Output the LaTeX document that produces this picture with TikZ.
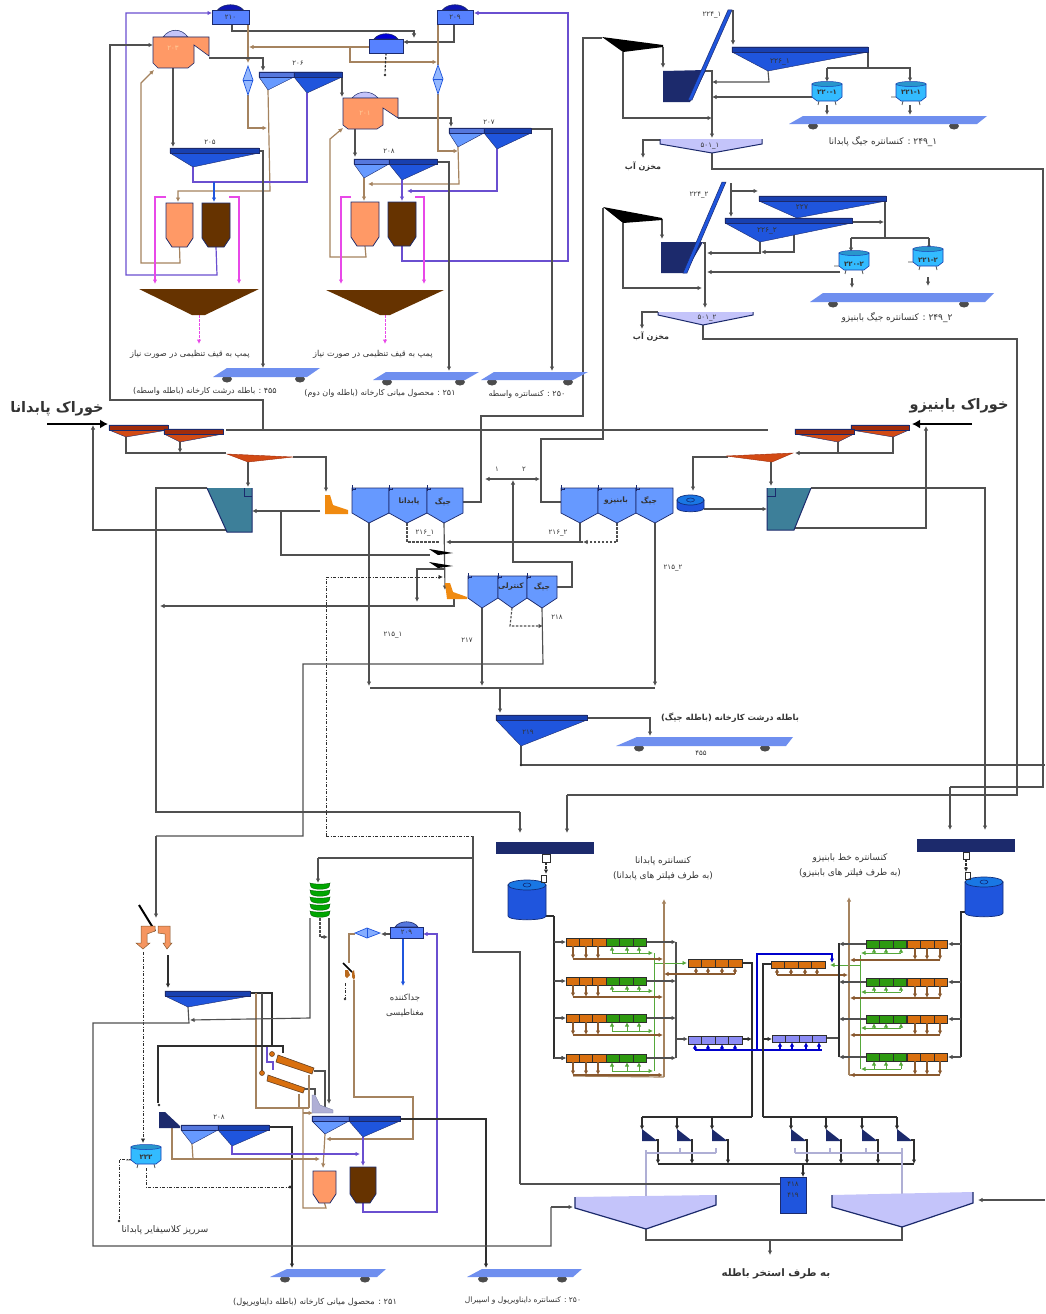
\documentclass[tikz,border=0pt]{standalone}
\usepackage{fontspec}
\usetikzlibrary{arrows.meta}
\TeXXeTstate=1
\newfontfamily\arabicfont[Script=Arabic]{DejaVu Sans}
\definecolor{cnavy}{HTML}{1C2A6C}
\definecolor{cline}{HTML}{505050}
\definecolor{cdark}{HTML}{2E2E2E}
\definecolor{cbrown}{HTML}{A5835F}
\definecolor{cbrownd}{HTML}{8A5A30}
\definecolor{cpurple}{HTML}{6A4FD0}
\definecolor{cmag}{HTML}{E848E8}
\definecolor{cgrn}{HTML}{55A83A}
\definecolor{clight}{HTML}{6699FF}
\definecolor{clightb}{HTML}{5577DD}
\definecolor{cblue}{HTML}{1F55DD}
\definecolor{cblueb}{HTML}{1840B0}
\definecolor{cpeach}{HTML}{FF9966}
\definecolor{cchoc}{HTML}{663300}
\definecolor{cbelt}{HTML}{6F8FEF}
\definecolor{cred}{HTML}{D24A14}
\definecolor{credb}{HTML}{A02C0C}
\definecolor{cteal}{HTML}{3D7F99}
\definecolor{ccyan}{HTML}{33BBFF}
\definecolor{corange}{HTML}{D9700F}
\definecolor{cfgreen}{HTML}{2E9A10}
\definecolor{cviolet}{HTML}{8C8CF5}
\definecolor{claven}{HTML}{C4C4FA}
\definecolor{claunch}{HTML}{F08A10}
\definecolor{ctext}{HTML}{333333}
\pgfdeclarelayer{lines}
\pgfsetlayers{lines,main}
\tikzset{
 sg/.style={draw=cline,line width=1.15pt},
 sk/.style={draw=cdark,line width=1.2pt},
 sb/.style={draw=cbrown,line width=1.2pt},
 sbd/.style={draw=cbrownd,line width=1.05pt},
 sp/.style={draw=cpurple,line width=1.2pt},
 sm/.style={draw=cmag,line width=1.7pt},
 sn/.style={draw=cgrn,line width=.95pt},
 sl/.style={draw=claven!70!gray,line width=1.05pt},
 dd/.style={dash pattern=on 3pt off 1.5pt on 1pt off 1.5pt},
 ds/.style={dash pattern=on 2.5pt off 1.5pt},
 ah/.style={-{Latex[length=4.5pt,width=4.5pt]}},
 ha/.style={{Latex[length=4.5pt,width=4.5pt]}-},
 lbl/.style={inner sep=0pt,text=ctext}
}
\newcounter{tx}
\newcommand{\fatxt}[4]{\stepcounter{tx}\node[lbl,font=\fontsize{#1}{#1}\selectfont] (tx\thetx) at (#2,#3) {\arabicfont #4};}
\newcommand{\fabold}[4]{\stepcounter{tx}\node[lbl,font=\fontsize{#1}{#1}\selectfont\bfseries] (tx\thetx) at (#2,#3) {\arabicfont #4};}
\newcommand{\fanum}[4]{\stepcounter{tx}\node[lbl,font=\fontsize{#1}{#1}\selectfont] (tx\thetx) at (#2,#3) {\arabicfont #4};}
\newcommand{\us}{\hbox{\_}}
\newcommand{\hy}{\hbox{-}}
% name fill bar xl xr ytop ax ay
\newcommand{\eqcone}[8]{\filldraw[fill=#2,draw=cnavy,line width=.4pt] (#4,#6) -- (#5,#6) -- (#5,{#6+5}) -- (#7,#8) -- (#4,{#6+5}) -- cycle;
 \filldraw[fill=#3,draw=cnavy,line width=.4pt] (#4,#6) rectangle (#5,{#6+5});
 \coordinate (#1) at (#7,#8);}
% name fill x1 x2 ytop ybot
\newcommand{\eqtank}[6]{\filldraw[fill=#2,draw=cnavy,line width=.8pt] (#3,#5) -- (#4,#5) -- (#4,{#6-9}) -- ({#4-6},#6) -- ({#3+6},#6) -- (#3,{#6-9}) -- cycle;
 \coordinate (#1) at ({(#3+#4)/2},#6);}
% x1 ybot x2 ytop x3 x4 w1 w2
\newcommand{\eqbelt}[8]{\fill[gray!60!black] (#7,{#2+2}) ellipse (5 and 3.5); \fill[gray!60!black] (#8,{#2+2}) ellipse (5 and 3.5);
 \fill[cbelt] (#1,#2) -- (#3,#4) -- (#5,#4) -- (#6,#2) -- cycle;}
% name x1 x2 y1 y2 domefill label
\newcommand{\eqbox}[7]{\filldraw[fill=#6,draw=cnavy,line width=.6pt] ({#2+(#3-#2)*.15},#4) .. controls ({#2+(#3-#2)*.3},{#4-7}) and ({#2+(#3-#2)*.7},{#4-7}) .. ({#2+(#3-#2)*.85},#4) -- cycle;
 \filldraw[fill=clight!85!blue,draw=cnavy,line width=.9pt] (#2,#4) rectangle (#3,#5);
 \fanum{7}{{(#2+#3)/2}}{{(#4+#5)/2}}{#7}
 \coordinate (#1) at ({(#2+#3)/2},#5);}
% name x1 x2 ytop yshoulder apexx yapex
\newcommand{\eqjig}[7]{\filldraw[fill=clight,draw=cnavy,line width=.7pt] (#2,#4) -- (#3,#4) -- (#3,#5) -- (#6,#7) -- (#2,#5) -- cycle;
 \draw[cnavy,line width=.6pt] (#2,{#4-3}) -- (#2,{#4+3}) (#2,{#4+1}) -- ({#2+3},{#4+1}) ({#2+3},#4) -- ({#2+3},{#4+2});
 \coordinate (#1) at (#6,#7);}
% name cx cy fill stub
\newcommand{\eqcyl}[5]{\draw[cline,line width=.8pt] ({#2-8},{#3+8}) -- ({#2-9},{#3+12}) ({#2+8},{#3+8}) -- ({#2+9},{#3+12}) ({#2-15},{#3+4}) -- ({#2+#5},{#3+4});
 \filldraw[fill=#4,draw=cblueb,line width=.6pt] ({#2-15},{#3-9}) -- ({#2+15},{#3-9}) -- ({#2+15},{#3+4}) -- ({#2+10},{#3+8}) -- ({#2-10},{#3+8}) -- ({#2-15},{#3+4}) -- cycle;
 \filldraw[fill=#4!80!black,draw=cblueb,line width=.5pt] (#2,{#3-9}) ellipse (15 and 2.5);
 \coordinate (#1) at (#2,#3);}
% x1 x2 ytop ybot
\newcommand{\eqdrum}[4]{\filldraw[fill=cblue,draw=cblueb!70!black,line width=.7pt] (#1,{#3+5}) -- (#1,{#4-4}) .. controls (#1,{#4+1}) and (#2,{#4+1}) .. (#2,{#4-4}) -- (#2,{#3+5}) -- cycle;
 \filldraw[fill=cblue!80!cyan,draw=cblueb!70!black,line width=.7pt] ({(#1+#2)/2},{#3+5}) ellipse ({(#2-#1)/2} and 5);
 \draw[cblueb!70!black,line width=.6pt] ({(#1+#2)/2},{#3+5}) ellipse (4 and 2);}
% x ytop cellw h n color
\newcommand{\eqcells}[6]{\foreach \cc in {1,...,#5}{\filldraw[fill=#6,draw=cdark,line width=.7pt] ({#1+(\cc-1)*#3},#2) rectangle ++(#3,#4);}}
% small navy wedge
\newcommand{\eqwedge}[3]{\fill[cnavy] (#2,#3) -- ({#2+14},{#3+11}) -- ({#2+14},{#3+12}) -- (#2,{#3+12}) -- cycle; \coordinate (#1) at ({#2+14},{#3+11});}
\begin{document}
\begin{tikzpicture}[x=1pt,y=-1pt]
\useasboundingbox (0,0) rectangle (1045,1314);
\begin{pgfonlayer}{lines}
\fill[white] (0,0) rectangle (1045,1314);
\end{pgfonlayer}

%%%%%%%%%% top-left circuit
\eqbox{b210}{212}{249}{10}{24}{cnavy!50!blue}{۲۱۰}
\eqbox{b209}{437}{473}{10}{24}{cnavy!50!blue}{۲۰۹}
\eqbox{bmid}{369}{403}{39}{53}{blue!85!black}{}
\filldraw[fill=claven,draw=cnavy,line width=.5pt] (163,37) .. controls (170,28) and (181,28) .. (188,37) -- cycle;
\filldraw[fill=claven,draw=cnavy,line width=.5pt] (352,98) .. controls (359,90) and (371,90) .. (378,98) -- cycle;
\filldraw[fill=cpeach,draw=cnavy,line width=.6pt] (153,37) -- (209,37) -- (209,56) -- (194,45) -- (194,63) -- (188,68) -- (158,68) -- (153,63) -- cycle;
\filldraw[fill=cpeach,draw=cnavy,line width=.6pt] (343,98) -- (398,98) -- (398,118) -- (383,108) -- (383,125) -- (377,129) -- (348,129) -- (343,125) -- cycle;
\coordinate (c203) at (173,68); \coordinate (c201) at (355,129);
\stepcounter{tx}\node[lbl,text=orange!40!white,font=\fontsize{7}{7}\selectfont] (tx\thetx) at (173,48) {\arabicfont ۲۰۳};
\stepcounter{tx}\node[lbl,text=orange!40!white,font=\fontsize{7}{7}\selectfont] (tx\thetx) at (365,113) {\arabicfont ۲۰۱};
% diamonds
\filldraw[fill=clight!70,draw=cblue,line width=.7pt] (248,66) -- (253,80) -- (248,95) -- (243,80) -- cycle; \draw[cblue,line width=.5pt] (243,80) -- (253,80);
\filldraw[fill=clight!70,draw=cblue,line width=.7pt] (438,65) -- (443,79) -- (438,94) -- (433,79) -- cycle; \draw[cblue,line width=.5pt] (433,79) -- (443,79);
\coordinate (d1) at (248,95); \coordinate (d2) at (438,94);
% screens
\eqcone{s206a}{clight}{clightb}{259}{294}{72}{268}{90}
\eqcone{s206b}{cblue}{cblueb}{294}{342}{72}{307}{93}
\eqcone{s207a}{clight}{clightb}{449}{484}{128}{458}{147}
\eqcone{s207b}{cblue}{cblueb}{484}{531}{128}{497}{149}
\eqcone{s208a}{clight}{clightb}{354}{389}{159}{364}{178}
\eqcone{s208b}{cblue}{cblueb}{389}{437}{159}{402}{180}
\eqcone{s205}{cblue}{cblueb}{170}{259}{148}{193}{167}
\fanum{7}{298}{63}{۲۰۶}
\fanum{7}{489}{122}{۲۰۷}
\fanum{7}{389}{151}{۲۰۸}
\fanum{7}{210}{142}{۲۰۵}
% tanks
\eqtank{t1a}{cpeach}{166}{193}{203}{247}
\eqtank{t1b}{cchoc}{202}{230}{203}{247}
\eqtank{t2a}{cpeach}{351}{379}{202}{246}
\eqtank{t2b}{cchoc}{388}{416}{202}{246}
% large cones
\fill[cchoc] (139,289) -- (259,289) -- (205,315) -- (192,315) -- cycle; \coordinate (f1) at (199,315);
\fill[cchoc] (326,290) -- (444,290) -- (390,315) -- (380,315) -- cycle; \coordinate (f2) at (385,315);
\fatxt{8.2}{190}{354}{\beginR پمپ به قیف تنظیمی در صورت نیاز\endR}
\fatxt{8.2}{373}{354}{\beginR پمپ به قیف تنظیمی در صورت نیاز\endR}
\eqbelt{213}{377}{227}{368}{320}{307}{227}{300}
\eqbelt{373}{380}{386}{372}{479}{465}{387}{460}
\eqbelt{481}{380}{494}{372}{588}{573}{492}{568}
\fatxt{8}{205}{391}{\beginR \beginL ۴۵۵\endL{} : باطله درشت کارخانه (باطله واسطه)\endR}
\fatxt{8}{380}{393}{\beginR \beginL ۲۵۱\endL{} : محصول میانی کارخانه (باطله وان دوم)\endR}
\fatxt{8}{527}{394}{\beginR \beginL ۲۵۰\endL{} : کنسانتره واسطه\endR}

\begin{pgfonlayer}{lines}
\draw[sp,ah] (t1b) -- (217,275) -- (126,275) -- (126,13) -- (212,13);
\draw[sg,ah] (232,24) -- (232,31) -- (414,31) -- (414,38);
\draw[sb,ah] (248,24) -- (248,63);
\draw[sg,ah] (454,24) -- (454,42) -- (403,42);
\draw[sb] (438,24) -- (438,65);
\draw[sb,ah] (369,47) -- (249,47);
\draw[sb,ah] (350,47) -- (350,62) -- (437,62);
\draw[sk,ds] (bmid) -- (385,73);
\fill[cdark] (385,75) circle (1.3);
\draw[sg,ah] (209,58) -- (263,58) -- (263,71);
\draw[sb,ah] (d1) -- (248,128) -- (267,128);
\draw[sb,ah] (s206a) -- (270,191) -- (178,191) -- (178,202);
\draw[sp] (s206b) -- (307,182) -- (193,182) -- (s205);
\draw[cblue,line width=1.2pt,ah] (214,182) -- (214,202);
\draw[sg,ah] (c203) -- (173,147);
\draw[sb,ah] (t1a) -- (180,263) -- (141,263) -- (141,83) -- (154,70);
\draw[sg,ah] (259,151) -- (263,151) -- (263,368);
\draw[sg,ah] (263,430) -- (263,400) -- (110,400) -- (110,45) -- (153,45);
\draw[sg,ah] (342,75) -- (342,97);
\draw[sg,ah] (398,118) -- (451,118) -- (451,127);
\draw[sg,ah] (c201) -- (355,157);
\draw[sb,ah] (t2a) -- (366,257) -- (330,257) -- (330,139) -- (343,128);
\draw[sp,ah] (t2b) -- (402,261) -- (568,261) -- (568,13) -- (474,13);
\draw[sb,ah] (d2) -- (438,151) -- (458,151);
\draw[sb,ah] (s207a) -- (459,184) -- (368,184);
\draw[sp,ah] (s207b) -- (497,191) -- (407,191);
\draw[sb,ah] (s208a) -- (364,201);
\draw[sp,ah] (s208b) -- (402,201);
\draw[sg,ah] (437,162) -- (449,162) -- (449,371);
\draw[sg,ah] (531,129) -- (552,129) -- (552,371);
\draw[sm,ah] (166,197) -- (155,197) -- (155,284);
\draw[sm,ah] (229,197) -- (239,197) -- (239,284);
\draw[sm,ah] (351,197) -- (341,197) -- (341,284);
\draw[sm,ah] (415,197) -- (424,197) -- (424,284);
\draw[sm,line width=.9pt,ds,ah] (f1) -- (199,344);
\draw[sm,line width=.9pt,ds,ah] (f2) -- (385,344);
\end{pgfonlayer}

%%%%%%%%%% top-right circuits
\fill[black] (602,37) -- (663,45) -- (663,47) -- (623,52) -- cycle; \coordinate (fd1) at (623,52);
\fill[black] (603,207) -- (662,218) -- (662,220) -- (623,223) -- cycle; \coordinate (fd2) at (623,223);
\fill[cnavy] (663,71) -- (706,70) -- (690,102) -- (663,102) -- cycle;
\fill[cnavy] (661,242) -- (703,242) -- (685,273) -- (661,273) -- cycle;
\filldraw[fill=cblue,draw=cnavy,line width=.5pt] (728,10) -- (732,10) -- (692,100) -- (688,100) -- cycle;
\filldraw[fill=cblue,draw=cnavy,line width=.5pt] (722,182) -- (726,182) -- (687,273) -- (683,273) -- cycle;
\eqcone{s2261}{cblue}{cblueb}{732}{868}{47}{768}{71}
\eqcone{s227}{cblue}{cblueb}{759}{886}{196}{797}{218}
\eqcone{s2262}{cblue}{cblueb}{725}{852}{218}{760}{242}
\fanum{7.5}{780}{62}{۲۲۶\us ۱}
\fanum{7.5}{802}{207}{۲۲۷}
\fanum{7.5}{767}{231}{۲۲۶\us ۲}
\fanum{7}{712}{15}{۲۲۴\us ۱}
\fanum{7}{699}{195}{۲۲۴\us ۲}
\eqcyl{u2201}{827}{93}{ccyan}{-20}
\eqcyl{u2211}{911}{93}{ccyan}{-20}
\eqcyl{u2202}{854}{262}{ccyan}{-20}
\eqcyl{u2212}{928}{258}{ccyan}{-20}
\fanum{7}{827}{92}{\textbf{۲۲۰\hy ۱}}
\fanum{7}{911}{92}{\textbf{۲۲۱\hy ۱}}
\fanum{7}{854}{264}{\textbf{۲۲۰\hy ۲}}
\fanum{7}{928}{260}{\textbf{۲۲۱\hy ۲}}
\eqbelt{789}{124}{803}{116}{987}{977}{813}{954}
\eqbelt{810}{302}{823}{293}{994}{985}{833}{964}
\fatxt{9}{883}{142}{\beginR \beginL ۲۴۹\us ۱\endL{} : کنسانتره جیگ پابدانا\endR}
\fatxt{9}{897}{318}{\beginR \beginL ۲۴۹\us ۲\endL{} : کنسانتره جیگ بابنیزو\endR}
\filldraw[fill=claven,draw=none] (660,139) -- (762,139) -- (762,144) -- (712,153) -- (660,144) -- cycle;
\draw[cnavy,line width=1pt] (660,139) -- (660,144) -- (712,153) -- (762,144) -- (762,139);
\filldraw[fill=claven,draw=none] (658,312) -- (753,312) -- (753,315) -- (703,325) -- (658,315) -- cycle;
\draw[cnavy,line width=1pt] (658,312) -- (658,315) -- (703,325) -- (753,315) -- (753,312);
\coordinate (w1) at (712,153); \coordinate (w2) at (703,325);
\fanum{7}{710}{146}{۵۰۱\us ۱}
\fanum{7}{707}{318}{۵۰۱\us ۲}
\fabold{8}{643}{167}{\beginR مخزن آب\endR}
\fabold{8}{651}{337}{\beginR مخزن آب\endR}

\begin{pgfonlayer}{lines}
\draw[sg] (602,38) -- (583,38) -- (583,416) -- (481,416) -- (481,502) -- (463,502);
\draw[sg] (603,208) -- (603,439) -- (541,439) -- (541,502) -- (561,502);
\draw[sg,ah] (733,10) -- (733,45);
\draw[sg] (868,53) -- (868,68) -- (827,68);
\draw[sg,ah] (827,68) -- (827,82);
\draw[sg,ah] (868,68) -- (910,68) -- (910,82);
\draw[sg,ah] (827,105) -- (827,115);
\draw[sg,ah] (910,105) -- (910,115);
\draw[sg,ah] (s2261) -- (769,82) -- (712,82);
\draw[sg,ah] (705,71) -- (712,71) -- (712,138);
\draw[sg,ah] (812,97) -- (712,97);
\draw[sg,ah] (fd1) -- (623,118) -- (712,118);
\draw[sg,ah] (663,47) -- (663,68);
\draw[sg,ah] (660,140) -- (643,140) -- (643,158);
\draw[sg] (w1) -- (712,169) -- (1043,169) -- (1043,787) -- (950,787);
\draw[sg,ah] (950,787) -- (950,830);
\draw[sg,ah] (662,219) -- (662,239);
\draw[sg,ah] (fd2) -- (623,288) -- (702,288);
\draw[sg,ah] (703,243) -- (705,243) -- (705,308);
\draw[sg,ah] (731,183) -- (731,217);
\draw[sg,ah] (731,191) -- (758,191);
\draw[sg] (885,200) -- (885,238);
\draw[sg,ah] (852,222) -- (884,222);
\draw[sg] (851,238) -- (929,238);
\draw[sg,ah] (851,238) -- (851,252);
\draw[sg,ah] (929,238) -- (929,250);
\draw[sg,ah] (852,278) -- (852,288);
\draw[sg,ah] (928,277) -- (928,286);
\draw[sg,ah] (s2262) -- (760,253) -- (707,253);
\draw[sg,ah] (794,220) -- (794,252) -- (761,252);
\draw[sg,ah] (840,272) -- (707,272);
\draw[sg,ah] (658,312) -- (642,312) -- (642,329);
\draw[sg] (w2) -- (703,339) -- (1017,339) -- (1017,795) -- (567,795);
\draw[sg,ah] (567,795) -- (567,833);
\end{pgfonlayer}

%%%%%%%%%% middle: feed, jigs
\draw[black,line width=2.4pt,-{Latex[length=8pt,width=9pt]}] (47,424) -- (108,424);
\draw[black,line width=2.4pt,-{Latex[length=8pt,width=9pt]}] (972,424) -- (912,424);
\fabold{14.5}{57}{409}{\beginR خوراک پابدانا\endR}
\fabold{14.5}{959}{406}{\beginR خوراک بابنیزو\endR}
\eqcone{r1}{cred}{credb}{109}{168}{425}{126}{437}
\eqcone{r2}{cred}{credb}{164}{223}{429}{180}{442}
\eqcone{r4}{cred}{credb}{851}{909}{425}{893}{437}
\eqcone{r5}{cred}{credb}{795}{854}{429}{838}{442}
\filldraw[fill=cred,draw=credb,line width=.4pt] (227,454) -- (293,457) -- (248,462) -- cycle; \coordinate (r3) at (248,462);
\filldraw[fill=cred,draw=credb,line width=.4pt] (726,456) -- (793,453) -- (772,462) -- cycle; \coordinate (r6) at (771,462);
\filldraw[fill=cteal,draw=none] (207,488) -- (252,488) -- (252,532) -- (227,532) -- cycle;
\draw[cnavy,line width=1pt] (207,488) -- (227,532) -- (252,532) -- (252,488);
\draw[cnavy,line width=.7pt] (244,488) -- (244,496) -- (252,496);
\filldraw[fill=cteal,draw=none] (767,488) -- (811,488) -- (794,530) -- (767,530) -- cycle;
\draw[cnavy,line width=1pt] (811,488) -- (794,530) -- (767,530) -- (767,488);
\draw[cnavy,line width=.7pt] (767,496) -- (775,496) -- (775,488);
\fill[claunch] (325,495) -- (330,495) -- (333,505) -- (348,510) -- (348,514) -- (325,514) -- cycle;
\fill[claunch] (445,583) -- (450,583) -- (453,592) -- (467,597) -- (467,599) -- (447,599) -- cycle;
\eqjig{j1}{352}{389}{488}{513}{369}{523}
\eqjig{j2}{389}{427}{488}{513}{407}{523}
\eqjig{j3}{427}{463}{488}{513}{444}{523}
\eqjig{j4}{561}{598}{488}{513}{580}{523}
\eqjig{j5}{598}{636}{488}{513}{617}{523}
\eqjig{j6}{636}{673}{488}{513}{655}{523}
\eqjig{j7}{468}{498}{576}{598}{482}{608}
\eqjig{j8}{498}{527}{576}{598}{512}{608}
\eqjig{j9}{527}{557}{576}{598}{542}{608}
\fabold{7.5}{409}{502}{پابدانا}
\fabold{7.5}{443}{502}{جیگ}
\fabold{7.5}{616}{501}{بابنیزو}
\fabold{7.5}{649}{501}{جیگ}
\fabold{7.5}{511}{587}{کنترلی}
\fabold{7.5}{542}{587}{جیگ}
\fill[black] (429,549) -- (453,553) -- (438,555) -- cycle;
\fill[black] (429,562) -- (453,566) -- (438,568) -- cycle;
\eqdrum{677}{704}{495}{512}
\eqcone{s219}{cblue}{cblueb}{496}{587}{715}{521}{746}
\fanum{7}{528}{732}{۲۱۹}
\eqbelt{616}{746}{637}{737}{793}{786}{639}{765}
\fanum{7}{701}{753}{۴۵۵}
\fabold{8.3}{730}{718}{\beginR باطله درشت کارخانه (باطله جیگ)\endR}
\fanum{7}{425}{533}{۲۱۶\us ۱}
\fanum{7}{558}{533}{۲۱۶\us ۲}
\fanum{7}{393}{635}{۲۱۵\us ۱}
\fanum{7}{673}{568}{۲۱۵\us ۲}
\fanum{7}{467}{640}{۲۱۷}
\fanum{7}{557}{617}{۲۱۸}
\fanum{7}{497}{469}{۱}
\fanum{7}{524}{469}{۲}

\begin{pgfonlayer}{lines}
\draw[sg] (226,430) -- (768,430);
\draw[sg] (r1) -- (126,453) -- (226,453);
\draw[sg,ah] (r2) -- (180,453);
\draw[sg,ah] (293,457) -- (326,457) -- (326,492);
\draw[sg,ah] (r3) -- (248,487);
\draw[sg,ah] (227,530) -- (93,530) -- (93,425);
\draw[sg,ah] (320,511) -- (252,511);
\draw[sg] (281,511) -- (281,555) -- (430,555);
\draw[sg] (207,488) -- (156,488) -- (156,812) -- (520,812);
\draw[sg,ah] (520,812) -- (520,833);
\draw[sg,ah] (j1) -- (369,686);
\draw[sg,ds] (j2) -- (407,542) -- (440,542);
\draw[sg,ah] (j3) -- (445,590);
\draw[sg,ah] (583,542) -- (446,542);
\draw[sg] (j4) -- (580,542);
\draw[sg,ds,ah] (j5) -- (617,542) -- (583,542);
\draw[sg,ah] (j6) -- (655,686);
\draw[{Latex[length=4.5pt,width=4.5pt]}-{Latex[length=4.5pt,width=4.5pt]},sg] (485,479) -- (540,479);
\draw[sg,ah] (557,587) -- (572,587) -- (572,562) -- (513,562) -- (513,480);
\draw[sg,ah] (445,569) -- (417,569) -- (417,602);
\draw[sg,ah] (454,599) -- (454,606) -- (160,606);
\draw[cdark,line width=.9pt,dd,ah] (326,836) -- (326,577) -- (443,577);
\draw[cdark,line width=.9pt,dd] (326,836) -- (473,836);
\draw[sg,ah] (j7) -- (482,686);
\draw[sg,ds,ah] (j8) -- (510,626) -- (543,626);
\draw[sg] (j9) -- (543,664) -- (303,664) -- (303,836) -- (156,836);
\draw[sg,ah] (156,836) -- (156,918);
\draw[sg] (370,688) -- (655,688);
\draw[sg,ah] (500,688) -- (500,713);
\draw[sg,ah] (587,718) -- (650,718) -- (650,736);
\draw[sg] (s219) -- (521,765) -- (1045,765);
\fill[cdark] (521,765) circle (1.3);
\draw[sg,ah] (r4) -- (893,453) -- (795,453);
\draw[sg] (r5) -- (838,453);
\draw[sg,ah] (728,457) -- (693,457) -- (693,491);
\draw[sg,ah] (r6) -- (771,486);
\draw[sg,ah] (704,509) -- (767,509);
\draw[sg,ah] (794,528) -- (926,528) -- (926,426);
\draw[sg,ah] (811,488) -- (985,488) -- (985,830);
\draw[sg] (473,836) -- (473,952) -- (520,952) -- (520,1184);
\end{pgfonlayer}

%%%%%%%%%% lower left
\foreach \gy in {883,890,897,904,911}{
 \filldraw[fill=green!65!black,draw=green!35!black,line width=.4pt] (310,\gy) .. controls (314,{\gy+1.5}) and (326,{\gy+1.5}) .. (330,\gy) -- (329,{\gy+4}) .. controls (326,{\gy+7}) and (314,{\gy+7}) .. (311,{\gy+4}) -- cycle;}
\draw[black,line width=2pt] (139,905) -- (155,931);
\filldraw[fill=cpeach!85!brown,draw=cbrownd,line width=.5pt] (141,926) -- (155,926) -- (155,931) -- (147,934) -- (147,943) -- (150,943) -- (143,949) -- (136,943) -- (141,943) -- cycle;
\filldraw[fill=cpeach!85!brown,draw=cbrownd,line width=.5pt] (158,926) -- (170,926) -- (170,943) -- (172,943) -- (167,949) -- (163,943) -- (165,943) -- (165,934) -- (158,933) -- cycle;
\eqcone{s50}{cblue}{cblueb}{165}{250}{991}{188}{1007}
\filldraw[fill=clight!80,draw=cblue,line width=.7pt] (355,933) -- (367,928) -- (380,933) -- (367,938) -- cycle; \draw[cblue,line width=.5pt] (367,928) -- (367,938);
\eqbox{b209b}{390}{423}{927}{938}{clightb}{۲۰۹}
\draw[black,line width=1.5pt] (343,963) -- (352,972);
\fill[cbrownd!60!orange] (345,970) -- (348,970) -- (350,975) -- (347,978) -- (345,976) -- cycle;
\fill[cbrownd!60!orange] (352,972) -- (354,970) -- (355,977) -- (354,980) -- (352,977) -- cycle;
\filldraw[fill=corange,draw=cbrownd!70!black,line width=.6pt] (278,1055) -- (314,1068) -- (312,1074) -- (276,1062) -- cycle;
\filldraw[fill=corange,draw=cbrownd!70!black,line width=.6pt] (268,1075) -- (305,1088) -- (303,1093) -- (267,1081) -- cycle;
\filldraw[fill=corange,draw=cbrownd!70!black,line width=.5pt] (272,1054) circle (2.5);
\filldraw[fill=corange,draw=cbrownd!70!black,line width=.5pt] (262,1073) circle (2.5);
\filldraw[fill=claven!70!gray,draw=cnavy!60,line width=.4pt] (312,1095) -- (315,1095) -- (320,1105) -- (333,1110) -- (333,1113) -- (312,1113) -- cycle;
\eqcone{s70a}{clight}{clightb}{312}{349}{1116}{325}{1134}
\eqcone{s70b}{cblue}{cblueb}{349}{400}{1116}{363}{1137}
\eqcone{s80a}{clight}{clightb}{181}{218}{1125}{192}{1144}
\eqcone{s80b}{cblue}{cblueb}{218}{269}{1125}{232}{1146}
\fanum{7}{219}{1117}{۲۰۸}
\eqtank{t3a}{cpeach}{313}{336}{1171}{1203}
\eqtank{t3b}{cchoc}{350}{376}{1167}{1203}
\fill[cnavy] (159,1112) -- (165,1112) -- (180,1126) -- (180,1128) -- (159,1128) -- cycle;
\eqcyl{u222}{146}{1156}{ccyan}{-20}
\fanum{7}{146}{1157}{\textbf{۲۲۲}}
\eqbelt{270}{1277}{287}{1269}{386}{377}{285}{365}
\eqbelt{467}{1277}{482}{1269}{582}{573}{483}{562}
\fatxt{8.5}{405}{998}{جداکننده}
\fatxt{8.5}{405}{1013}{مغناطیسی}
\fatxt{9.2}{165}{1230}{\beginR سرریز کلاسیفایر پابدانا\endR}
\fatxt{8.2}{315}{1302}{\beginR \beginL ۲۵۱\endL{} : محصول میانی کارخانه (باطله دایناویرپول)\endR}
\fatxt{7.5}{523}{1301}{\beginR \beginL ۲۵۰\endL{} : کنسانتره دایناویرپول و اسپیرال\endR}

\begin{pgfonlayer}{lines}
\draw[cdark,line width=.9pt,dd,ah] (143,952) -- (143,1143);
\draw[sk,ah] (168,955) -- (168,988);
\draw[sg] (473,858) -- (318,858);
\draw[sg,ah] (318,858) -- (318,883);
\draw[sk] (250,993) -- (272,993) -- (272,1047);
\draw[sg] (262,993) -- (262,1073);
\draw[sb] (256,993) -- (256,1108) -- (309,1108);
\draw[sp] (267,1047) -- (267,1062) -- (273,1062) -- (273,1070);
\draw[sg,ah] (310,918) -- (310,1018) -- (190,1020);
\draw[sg,ah] (329,918) -- (329,1104);
\draw[sg,ds,ah] (320,918) -- (320,937) -- (328,937);
\draw[sg,ah] (390,934) -- (381,934);
\draw[sb] (355,934) -- (349,934) -- (349,963);
\draw[cblue,line width=1.2pt,ah] (403,938) -- (403,986);
\draw[sp,ah] (t3b) -- (363,1212) -- (437,1212) -- (437,934) -- (423,934);
\draw[sb,ah] (354,980) -- (354,1097) -- (413,1097) -- (413,1139) -- (326,1139);
\draw[sk] (158,1103) -- (158,1046) -- (283,1046) -- (283,1053);
\fill[cdark] (159,1105) circle (1.3);
\draw[sg] (314,1071) -- (325,1071) -- (325,1107);
\draw[sg] (305,1089) -- (315,1089) -- (315,1095);
\draw[sb] (309,1075) -- (309,1108);
\draw[sb] (299,1094) -- (299,1108);
\draw[sb,ha] (313,1113) -- (303,1113);
\draw[sb] (303,1108) -- (303,1208) -- (326,1208) -- (t3a);
\draw[sb,ah] (s70a) -- (323,1168);
\draw[sp,ah] (s70b) -- (363,1166);
\draw[sk,ah] (400,1119) -- (486,1119) -- (486,1268);
\draw[sk,ah] (269,1127) -- (292,1127) -- (292,1268);
\draw[sp,ah] (s80b) -- (232,1154) -- (360,1154);
\draw[sb,ah] (172,1128) -- (172,1159) -- (320,1159);
\draw[sb] (s80a) -- (193,1159);
\draw[cdark,line width=.9pt,dd] (132,1159) -- (119,1159) -- (119,1220);
\fill[cdark] (119,1221) circle (1.4);
\draw[cdark,line width=.9pt,dd] (146,1168) -- (146,1187) -- (290,1187);
\fill[cdark] (290,1187) circle (1.6);
\draw[cdark,line width=.9pt,dd] (345,983) -- (345,998);
\fill[cdark] (345,999) circle (1.4);
\draw[sg] (s50) -- (189,1023) -- (93,1023) -- (93,1246) -- (551,1246) -- (551,1207);
\draw[sg,ah] (551,1207) -- (573,1207);
\end{pgfonlayer}

%%%%%%%%%% lower right: bars, drums, filters
\fill[cnavy] (496,842) rectangle (594,854);
\fill[cnavy] (917,839) rectangle (1015,852);
\draw[cdark,line width=.6pt] (542,854) rectangle (550,862);
\draw[cdark,line width=.6pt] (963,852) rectangle (969,859);
\eqdrum{508}{546}{880}{920}
\eqdrum{965}{1003}{877}{917}
\draw[cdark,line width=.6pt] (541,875) rectangle (546,882);
\draw[cdark,line width=.6pt] (965,872) rectangle (970,879);
\draw[sk,ds,ah] (546,862) -- (546,874);
\draw[sk,ds,ah] (966,859) -- (966,872);
\fatxt{9}{663}{861}{\beginR کنسانتره پابدانا\endR}
\fatxt{9}{663}{876}{\beginR (به طرف فیلتر های پابدانا)\endR}
\fatxt{9}{850}{858}{\beginR کنسانتره خط بابنیزو\endR}
\fatxt{9}{850}{873}{\beginR (به طرف فیلتر های بابنیزو)\endR}

% left rows
\foreach \yr/\yb/\yg in {938/959/953,977/997/991,1014/1035/1031,1054/1075/1071}{
 \eqcells{566}{\yr}{13.4}{8}{3}{corange}
 \eqcells{606}{\yr}{13.6}{8}{3}{cfgreen}
 \foreach \xa in {573,586,598}{\draw[sbd,ah] (\xa,{\yr+8}) -- (\xa,\yb);}
 \draw[sbd,ah] (573,\yb) -- (663,\yb);
 \foreach \xa in {612,627,639}{\draw[sn,ah] (\xa,\yg) -- (\xa,{\yr+8});}
 \draw[sn,ah] (612,\yg) -- (653,\yg);
 \draw[sg,ah] (647,{\yr+4}) -- (676,{\yr+4});
 \draw[sg,ah] (554,{\yr+4}) -- (566,{\yr+4});
}
% right rows
\foreach \yr/\yb/\yg in {940/960/953,978/998/992,1015/1035/1028,1053/1075/1069}{
 \eqcells{866}{\yr}{13.6}{8}{3}{cfgreen}
 \eqcells{907}{\yr}{13.6}{8}{3}{corange}
 \foreach \xa in {915,927,940}{\draw[sbd,ah] (\xa,{\yr+8}) -- (\xa,\yb);}
 \draw[sbd,ah] (940,\yb) -- (850,\yb);
 \foreach \xa in {874,886,901}{\draw[sn,ah] (\xa,\yg) -- (\xa,{\yr+8});}
 \draw[sn,ah] (901,\yg) -- (861,\yg);
 \draw[sg,ah] (866,{\yr+4}) -- (839,{\yr+4});
 \draw[sg,ah] (961,{\yr+4}) -- (948,{\yr+4});
}
\eqcells{688}{959}{13.5}{8}{4}{corange}
\eqcells{688}{1036}{13.5}{8}{4}{cviolet}
\eqcells{771}{961}{13.5}{7}{4}{corange}
\eqcells{772}{1035}{13.5}{7}{4}{cviolet}
\foreach \xa in {696,708,722,735}{\draw[sbd,ah] (\xa,974) -- (\xa,967);}
\foreach \xa in {777,791,805,817}{\draw[sbd,ah] (\xa,975) -- (\xa,968);}
\foreach \xa in {695,708,722,735}{\draw[draw=blue!80!black,line width=1.1pt,ah] (\xa,1050) -- (\xa,1044);}
\foreach \xa in {780,792,806,819}{\draw[draw=blue!80!black,line width=1.1pt,ah] (\xa,1050) -- (\xa,1042);}
% wedges
\eqwedge{w01}{642}{1129}
\eqwedge{w02}{677}{1129}
\eqwedge{w03}{712}{1129}
\eqwedge{w04}{791}{1129}
\eqwedge{w05}{826}{1129}
\eqwedge{w06}{862}{1129}
\eqwedge{w07}{897}{1129}
\filldraw[fill=cblue,draw=cnavy,line width=.5pt] (780,1177) rectangle (806,1213);
\fanum{7}{793}{1184}{۴۱۸}
\fanum{7}{793}{1195}{۴۱۹}
\fill[claven] (575,1197) -- (716,1195) -- (716,1205) -- (646,1229) -- (575,1208) -- cycle;
\draw[cnavy,line width=1.2pt] (575,1197) -- (575,1208) -- (646,1229) -- (716,1205) -- (716,1195);
\fill[claven] (832,1195) -- (973,1192) -- (973,1203) -- (902,1227) -- (832,1207) -- cycle;
\draw[cnavy,line width=1.2pt] (832,1195) -- (832,1207) -- (902,1227) -- (973,1203) -- (973,1192);
\coordinate (p1) at (646,1229); \coordinate (p2) at (902,1227);
\fabold{10.3}{776}{1274}{\beginR به طرف استخر باطله\endR}

\begin{pgfonlayer}{lines}
\draw[sk,ah] (554,916) -- (554,1058) -- (566,1058);
\draw[sk] (546,916) -- (554,916);
\draw[sg] (676,942) -- (676,1058);
\draw[sg,ah] (676,1039) -- (688,1039);
\draw[sn] (654,953) -- (654,1071);
\draw[sn,ah] (654,963) -- (687,963);
\draw[sb,ah] (664,1077) -- (664,899);
\draw[sb] (573,1076) -- (664,1077);
\draw[sbd] (696,974) -- (735,974);
\draw[sbd,ah] (696,974) -- (664,974);
\draw[sk] (742,963) -- (752,963) -- (752,1117);
\draw[sk,ah] (742,1039) -- (752,1039);
\draw[draw=blue!80!black,line width=1.1pt] (695,1050) -- (822,1050);
\draw[draw=blue!80!black,line width=1.1pt,ah] (757,1050) -- (757,954) -- (832,954) -- (832,963);
\draw[sk] (771,964) -- (763,964) -- (763,1117);
\draw[sk,ah] (763,1039) -- (772,1039);
\draw[sg] (826,1038) -- (839,1038);
\draw[sbd] (777,975) -- (817,975);
\draw[sbd,ah] (817,975) -- (848,975);
\draw[sn,ah] (860,965) -- (830,965);
\draw[sn] (860,955) -- (860,1069);
\draw[sb,ah] (849,1075) -- (849,897);
\draw[sb] (849,1075) -- (940,1075);
\draw[sk] (961,1057) -- (961,912) -- (966,912);
\draw[sk] (839,943) -- (839,1057);
% bottom headers
\draw[sk] (642,1117) -- (752,1117);
\draw[sk] (763,1117) -- (897,1117);
\foreach \xa in {642,677,712,791,826,862,897}{\draw[sk,ah] (\xa,1117) -- (\xa,1130);}
\foreach \xa/\xb in {656/658,691/692,726/728,805/807,840/841,876/878,911/914}{\draw[sk,ah] (\xa,1140) -- (\xb,1140) -- (\xb,1164);}
\draw[sk] (658,1164) -- (914,1164);
\draw[sk,ah] (803,1164) -- (803,1177);
\draw[sl] (646,1150) -- (646,1198);
\draw[sl] (646,1153) -- (716,1153);
\foreach \xa in {680,716}{\draw[sl] (\xa,1148) -- (\xa,1153);}
\draw[sl] (795,1153) -- (902,1153);
\foreach \xa in {795,830,866}{\draw[sl] (\xa,1148) -- (\xa,1153);}
\draw[sl] (902,1148) -- (902,1197);
\draw[sg] (780,1184) -- (520,1184);
\draw[sg] (p1) -- (646,1240) -- (902,1240) -- (p2);
\draw[sg,ah] (770,1240) -- (770,1255);
\draw[sg,ah] (1045,1200) -- (978,1200);
\end{pgfonlayer}
\end{tikzpicture}
\end{document}
